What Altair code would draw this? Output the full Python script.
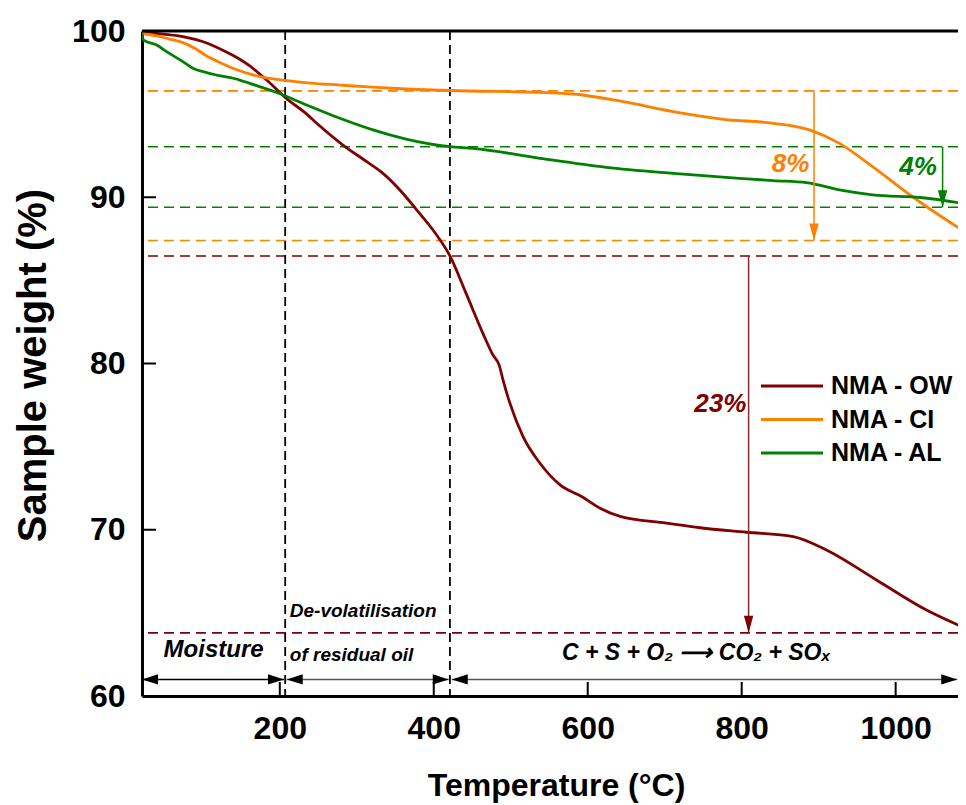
import altair as alt
import pandas as pd

FONT = "Liberation Sans"

# ---------------- data ----------------
series_names = ["NMA - OW", "NMA - CI", "NMA - AL"]
series_colors = ["#7f0000", "#ff8000", "#008000"]

ow_t = [21, 40, 74, 105, 130, 148, 161, 183, 207, 235, 248, 282, 313, 334, 356, 378, 399,
        421, 442, 464, 477, 485, 490, 499, 516, 538, 564, 592, 616, 642, 702, 746, 806,
        867, 910, 975, 1040, 1091]
ow_w = [99.92, 99.85, 99.66, 99.28, 98.75, 98.3, 97.9, 97.05, 96.0, 95.0, 94.45, 93.14,
        92.14, 91.44, 90.44, 89.23, 88.03, 86.47, 84.22, 81.8, 80.5, 79.9, 79.0, 77.6,
        75.6, 74.0, 72.7, 72.0, 71.3, 70.8, 70.4, 70.12, 69.85, 69.58, 68.78, 66.98,
        65.17, 64.07]

ci_t = [21, 40, 61, 74, 90, 105, 118, 139, 170, 206, 240, 278, 320, 364, 447, 520, 581,
        646, 711, 776, 841, 888, 927, 970, 1022, 1066, 1091]
ci_w = [99.85, 99.7, 99.46, 99.3, 98.95, 98.5, 98.2, 97.76, 97.3, 97.03, 96.87, 96.75,
        96.62, 96.51, 96.39, 96.33, 96.21, 95.75, 95.15, 94.69, 94.45, 94.05, 93.24,
        91.84, 90.03, 88.63, 87.9]

al_t = [21, 23, 40, 53, 74, 87, 105, 118, 148, 161, 196, 235, 278, 321, 364, 421, 451,
        538, 624, 711, 797, 841, 884, 927, 970, 1035, 1086]
al_w = [99.85, 99.45, 99.16, 98.76, 98.16, 97.76, 97.5, 97.35, 97.05, 96.85, 96.3, 95.55,
        94.75, 94.05, 93.5, 93.04, 92.94, 92.34, 91.8, 91.44, 91.14, 91.0, 90.88, 90.44,
        90.14, 89.97, 89.64]

# horizontal dashed reference levels
hline_w = [96.4, 87.4, 93.04, 89.4, 86.47, 63.8]
hline_c = ["#ff8000", "#ff8000", "#008000", "#008000", "#7f0000", "#7f0000"]

# vertical dashed stage boundaries
vline_t = [207, 421]

# weight-loss arrows
drop_t = [894, 1061, 809]
drop_from = [96.4, 93.04, 86.47]
drop_to = [87.4, 89.4, 63.8]
drop_c = ["#ff8000", "#008000", "#8b2a2a"]
drop_head_c = ["#ff8000", "#008000", "#7f0000"]

drop_labels = ["8%", "4%", "23%"]
drop_label_t = [888, 1029, 806]
drop_label_w = [92.0, 91.8, 77.55]
drop_label_c = ["#ff8000", "#008000", "#7f0000"]
drop_label_align = ["right", "center", "right"]

# stage arrows along the bottom
stage_from = [21, 209, 423.4]
stage_to = [205.5, 419.5, 1080]
stage_level = 61.0
stage_c = ["#000000", "#555555", "#555555"]

x_ticks = [200, 400, 600, 800, 1000]
y_ticks = [60, 70, 80, 90, 100]
y_inner_ticks = [70, 80, 90]

W, H = 816, 665

# ---------------- scales / axes ----------------
xs = alt.Scale(domain=[21, 1081], nice=False, zero=False)
ys = alt.Scale(domain=[60, 100], nice=False, zero=False)

x_axis = alt.Axis(values=x_ticks, format="d", ticks=False, tickSize=0, grid=False,
                  domainColor="black", domainWidth=3,
                  labelFont=FONT, labelFontSize=32, labelFontWeight="bold",
                  labelColor="black", labelPadding=17, labelFlush=False,
                  titleFont=FONT, titleFontSize=32, titleFontWeight="bold",
                  titleColor="black", titleX=414, titleY=99,
                  titleBaseline="alphabetic")
y_axis = alt.Axis(values=y_ticks, format="d", ticks=False, tickSize=0, grid=False,
                  domainColor="black", domainWidth=3,
                  labelFont=FONT, labelFontSize=32, labelFontWeight="bold",
                  labelColor="black", labelPadding=17, labelFlush=False,
                  titleFont=FONT, titleFontSize=40, titleFontWeight="bold",
                  titleColor="black", titleX=-97, titleY=334, titleAngle=270,
                  titleBaseline="alphabetic")

XT = "Temperature (°C)"
YT = "Sample weight (%)"


def X(f="t"):
    return alt.X(f"{f}:Q", scale=xs, axis=x_axis, title=XT)


def Y(f="w"):
    return alt.Y(f"{f}:Q", scale=ys, axis=y_axis, title=YT)


layers = []

# horizontal dashed lines
hl = pd.DataFrame({"w": hline_w, "c": hline_c})
layers.append(alt.Chart(hl).mark_rule(strokeDash=[10, 6], strokeWidth=1.6).encode(
    y=Y(), color=alt.Color("c:N", scale=None)))

# vertical dashed lines
vl = pd.DataFrame({"t": vline_t})
layers.append(alt.Chart(vl).mark_rule(strokeDash=[9, 5], strokeWidth=1.8, color="black").encode(
    x=X()))

# curves
rows = []
for name, ts, ws in zip(series_names, [ow_t, ci_t, al_t], [ow_w, ci_w, al_w]):
    for t, w in zip(ts, ws):
        rows.append({"series": name, "t": t, "w": w})
curves = pd.DataFrame(rows)
layers.append(alt.Chart(curves).mark_line(strokeWidth=2.8, interpolate="monotone", clip=True).encode(
    x=X(), y=Y(),
    color=alt.Color("series:N", scale=alt.Scale(domain=series_names, range=series_colors),
                    legend=None)))

# drop arrows
dr = pd.DataFrame({"t": drop_t, "w": drop_from, "w2": drop_to, "c": drop_c, "hc": drop_head_c})
layers.append(alt.Chart(dr).mark_rule(strokeWidth=1.5).encode(
    x=X(), y=Y(), y2=alt.Y2("w2:Q"), color=alt.Color("c:N", scale=None)))
layers.append(alt.Chart(dr).mark_point(shape="M 0 0 L -0.55 -2 L 0.55 -2 Z", filled=True,
                                        size=289, opacity=1, strokeWidth=0).encode(
    x=X(), y=Y("w2"), color=alt.Color("hc:N", scale=None)))

# drop labels
for txt, t, w, c, al in zip(drop_labels, drop_label_t, drop_label_w, drop_label_c, drop_label_align):
    d = pd.DataFrame({"t": [t], "w": [w], "s": [txt]})
    layers.append(alt.Chart(d).mark_text(font=FONT, fontSize=26, fontWeight="bold",
                                         fontStyle="italic", color=c, align=al,
                                         baseline="middle").encode(
        x=X(), y=Y(), text="s:N"))

# stage arrows
st = pd.DataFrame({"t": stage_from, "t2": stage_to, "w": [stage_level] * 3, "c": stage_c})
layers.append(alt.Chart(st).mark_rule(strokeWidth=1.5).encode(
    x=X(), x2=alt.X2("t2:Q"), y=Y(), color=alt.Color("c:N", scale=None)))
layers.append(alt.Chart(st).mark_point(shape="M 0 0 L 2 -0.65 L 2 0.65 Z", filled=True,
                                        size=256, opacity=1, strokeWidth=0, color="black").encode(
    x=X(), y=Y()))
layers.append(alt.Chart(st).mark_point(shape="M 0 0 L -2 -0.65 L -2 0.65 Z", filled=True,
                                        size=256, opacity=1, strokeWidth=0, color="black").encode(
    x=X("t2"), y=Y()))

# stage texts
stage_texts = [
    ("Moisture", 114, 62.77, 24, "center"),
    ("De-volatilisation", 213, 65.11, 19, "left"),
    ("of residual oil", 213, 62.47, 19, "left"),
    ("C + S + O\u2082 \u27f6 CO\u2082 + SO\u2093", 741, 62.6, 23, "center"),
]
for txt, t, w, fs, al in stage_texts:
    d = pd.DataFrame({"t": [t], "w": [w], "s": [txt]})
    layers.append(alt.Chart(d).mark_text(font=FONT, fontSize=fs, fontWeight="bold",
                                         fontStyle="italic", color="black", align=al,
                                         baseline="middle").encode(
        x=X(), y=Y(), text="s:N"))

# inward ticks
xt = pd.DataFrame({"t": x_ticks})
layers.append(alt.Chart(xt).mark_rule(strokeWidth=2, color="black").encode(
    x=X(), y=alt.value(H), y2=alt.value(H - 14)))
yt = pd.DataFrame({"w": y_inner_ticks})
layers.append(alt.Chart(yt).mark_rule(strokeWidth=2, color="black").encode(
    y=Y(), x=alt.value(0), x2=alt.value(14)))

# top border
layers.append(alt.Chart(pd.DataFrame({"a": [0]})).mark_rule(strokeWidth=3, color="black").encode(
    x=alt.value(0), x2=alt.value(W), y=alt.value(0)))

# manual legend
for i, (name, col) in enumerate(zip(series_names, series_colors)):
    yy = 355 + i * 33.5
    d = pd.DataFrame({"s": [name]})
    layers.append(alt.Chart(d).mark_rule(strokeWidth=2.8, color=col).encode(
        x=alt.value(619), x2=alt.value(681), y=alt.value(yy)))
    layers.append(alt.Chart(d).mark_text(font=FONT, fontSize=25, fontWeight="bold",
                                         color="black", align="left", baseline="middle").encode(
        x=alt.value(689), y=alt.value(yy), text="s:N"))

chart = alt.layer(*layers).properties(
    width=W, height=H,
    autosize=alt.AutoSizeParams(type="none"),
    padding={"left": 134, "top": 23, "right": 0, "bottom": 109},
).configure_view(stroke=None)

chart.save("out.html", embed_options={"renderer": "svg", "actions": False})
